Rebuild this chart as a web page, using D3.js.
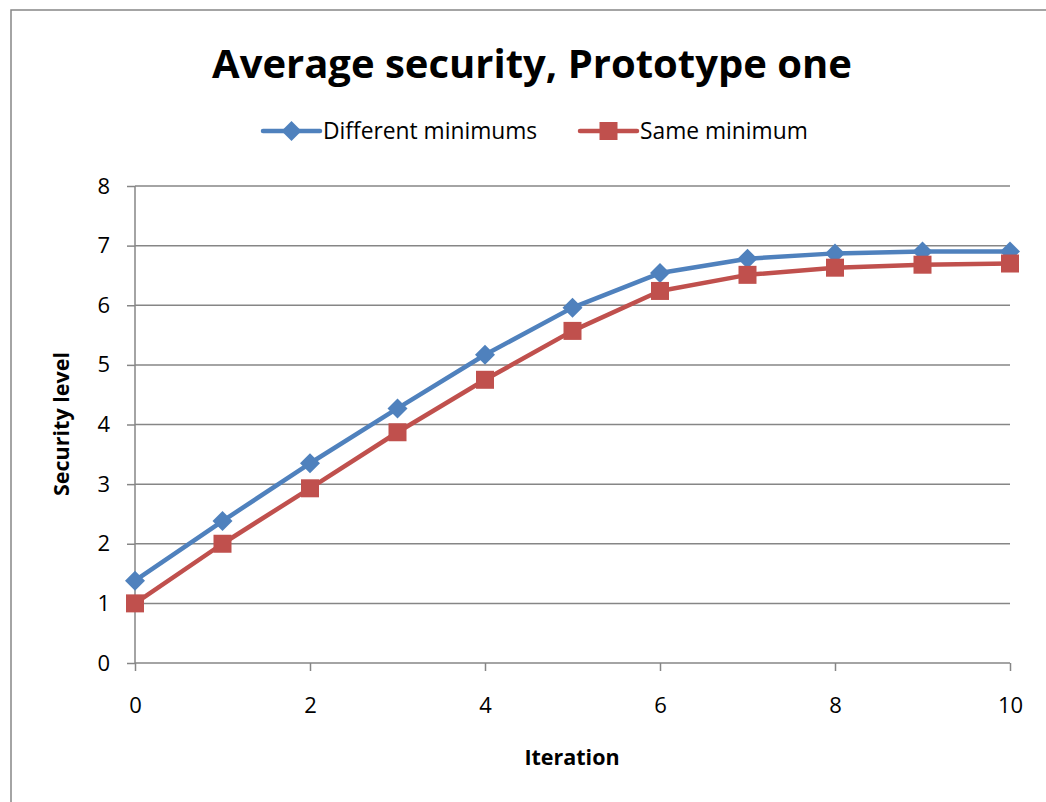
<!DOCTYPE html>
<html>
<head>
<meta charset="utf-8">
<script src="https://cdn.jsdelivr.net/npm/d3@7"></script>
<style>
  body { margin: 0; background: #fff; }
  svg { display: block; font-family: "Open Sans", sans-serif; }
</style>
</head>
<body>
<svg id="chart" width="1046" height="802"></svg>
<script>
const iterations = [0, 1, 2, 3, 4, 5, 6, 7, 8, 9, 10];
const differentMinimums = [1.38, 2.38, 3.35, 4.27, 5.17, 5.96, 6.54, 6.78, 6.87, 6.90, 6.90];
const sameMinimum = [1.00, 2.00, 2.93, 3.87, 4.75, 5.57, 6.24, 6.51, 6.63, 6.68, 6.70];
const xTicks = [0, 2, 4, 6, 8, 10];
const yTicks = [0, 1, 2, 3, 4, 5, 6, 7, 8];

const series = [
  { name: "Different minimums", values: differentMinimums, color: "#4F81BD", shape: "diamond" },
  { name: "Same minimum", values: sameMinimum, color: "#C0504D", shape: "square" }
];

const box = { left: 135, top: 186, width: 875, height: 477 };
const font = '"Open Sans", sans-serif';

const svg = d3.select('#chart');

// outer frame (runs off the bottom/right of the picture)
svg.append('rect')
  .attr('x', 11).attr('y', 10).attr('width', 1060).attr('height', 820)
  .style('fill', 'white').style('stroke', '#878787').style('stroke-width', 1.5);

const xScale = d3.scaleLinear().domain([0, 10]).range([box.left, box.left + box.width]);
const yScale = d3.scaleLinear().domain([0, 8]).range([box.top + box.height, box.top]);

// title
svg.append('text')
  .attr('x', 532).attr('y', 78)
  .style('text-anchor', 'middle')
  .style('font-size', '40px').style('font-weight', 'bold')
  .text('Average security, Prototype one');

// gridlines
svg.append('g')
  .selectAll('line')
  .data(yTicks.filter(d => d > 0))
  .enter()
  .append('line')
  .attr('x1', box.left).attr('x2', box.left + box.width)
  .attr('y1', d => yScale(d)).attr('y2', d => yScale(d))
  .style('stroke', '#868686').style('stroke-width', 1.5);

// axes
const yAxis = svg.append('g')
  .attr('transform', `translate(${box.left},0)`)
  .call(d3.axisLeft(yScale).tickValues(yTicks).tickSize(8).tickPadding(17).tickFormat(d3.format('d')));
const xAxis = svg.append('g')
  .attr('transform', `translate(0,${box.top + box.height})`)
  .call(d3.axisBottom(xScale).tickValues(xTicks).tickSize(8).tickPadding(26).tickFormat(d3.format('d')));

[xAxis, yAxis].forEach(a => {
  a.select('.domain').style('stroke', '#868686').style('stroke-width', 1.5);
  a.selectAll('.tick line').style('stroke', '#868686').style('stroke-width', 1.5);
  a.selectAll('.tick text')
    .style('font-family', font)
    .style('font-size', '22px').style('fill', '#000');
});
yAxis.select('.domain').attr('d', `M0,${box.top}V${box.top + box.height}`);
xAxis.select('.domain').attr('d', `M${box.left},0H${box.left + box.width}`);

// axis titles
svg.append('text')
  .attr('x', 572).attr('y', 765)
  .style('text-anchor', 'middle')
  .style('font-size', '21.5px').style('font-weight', 'bold')
  .text('Iteration');

svg.append('text')
  .attr('transform', `translate(69,424) rotate(-90)`)
  .style('text-anchor', 'middle')
  .style('font-size', '21.5px').style('font-weight', 'bold')
  .text('Security level');

// marker helpers
function marker(sel, shape, color) {
  if (shape === 'diamond') {
    sel.append('path')
      .attr('d', 'M0,-10L10,0L0,10L-10,0Z')
      .style('fill', color);
  } else {
    sel.append('rect')
      .attr('x', -9).attr('y', -9).attr('width', 18).attr('height', 18)
      .style('fill', color);
  }
}

const line = d3.line()
  .x((d, i) => xScale(iterations[i]))
  .y(d => yScale(d));

series.forEach(s => {
  const g = svg.append('g');
  g.append('path')
    .datum(s.values)
    .attr('d', line)
    .style('fill', 'none')
    .style('stroke', s.color)
    .style('stroke-width', 4.5)
    .style('stroke-linejoin', 'round');

  g.selectAll('.pt')
    .data(s.values)
    .enter()
    .append('g')
    .attr('class', 'pt')
    .attr('transform', (d, i) => `translate(${xScale(iterations[i])},${yScale(d)})`)
    .each(function () { marker(d3.select(this), s.shape, s.color); });
});

// legend
const legendX = [263, 580];
series.forEach((s, i) => {
  const g = svg.append('g').attr('transform', `translate(${legendX[i]},131)`);
  g.append('line')
    .attr('x1', 0).attr('x2', 57).attr('y1', 0).attr('y2', 0)
    .style('stroke', s.color).style('stroke-width', 4.5).style('stroke-linecap', 'round');
  const m = g.append('g').attr('transform', 'translate(28.5,0)');
  marker(m, s.shape, s.color);
  g.append('text')
    .attr('x', 60).attr('y', 8)
    .style('font-size', '22.8px')
    .text(s.name);
});
</script>
</body>
</html>
